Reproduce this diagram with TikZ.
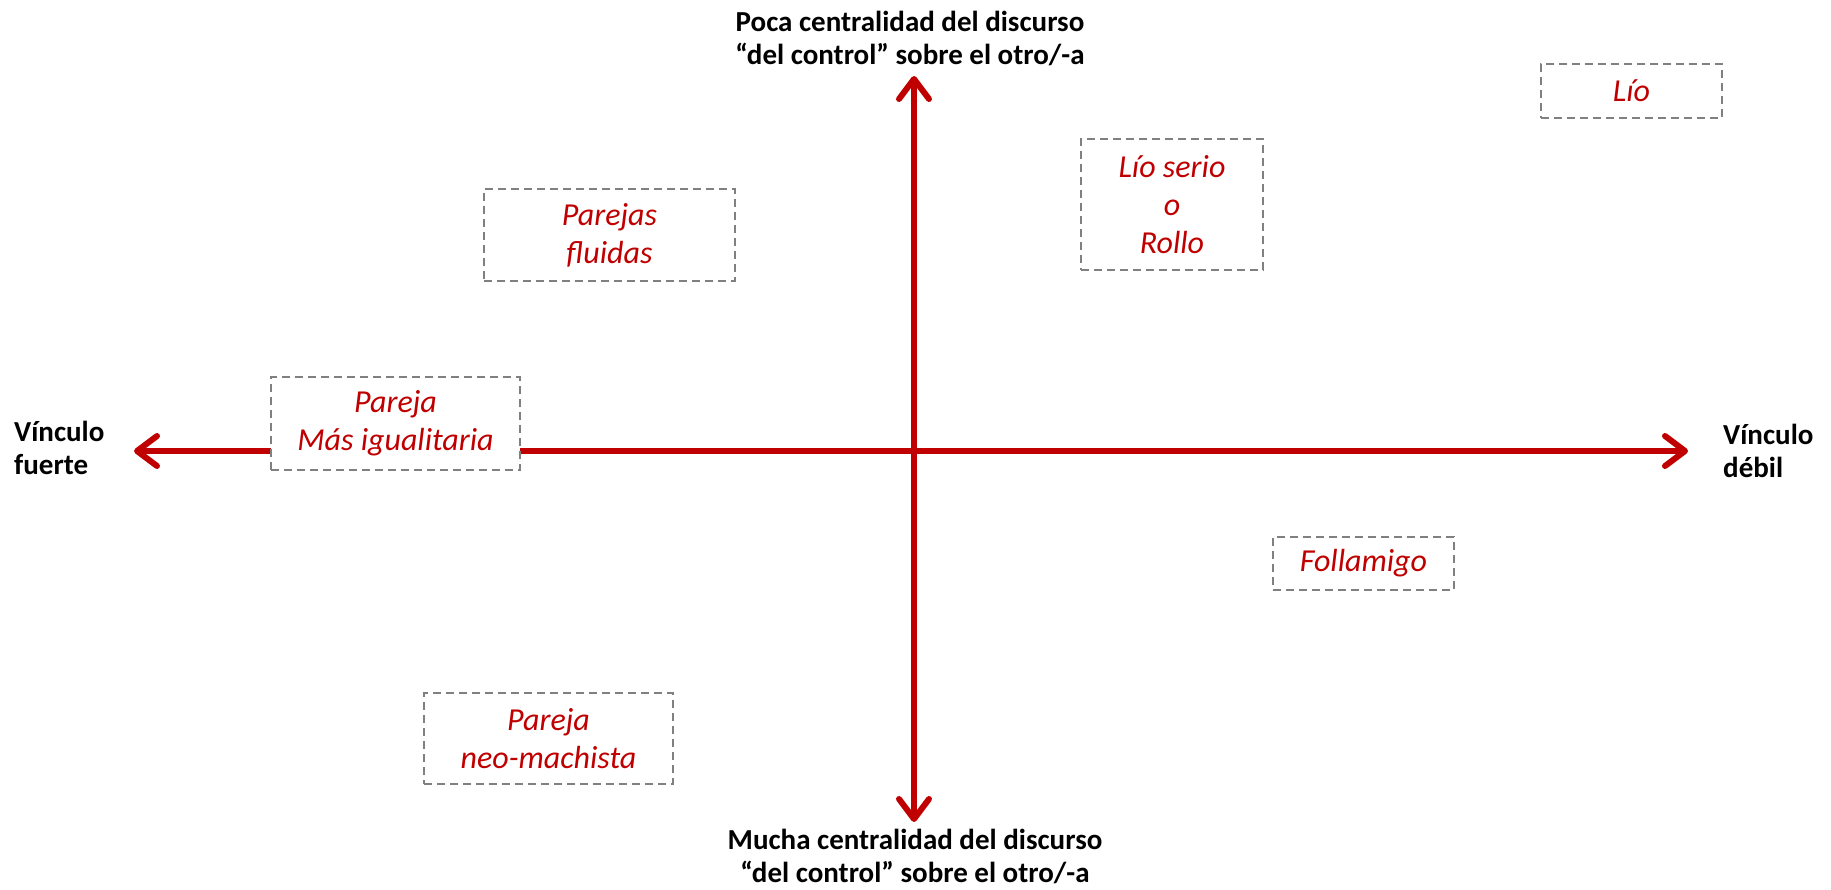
\documentclass[tikz,border=0pt]{standalone}
\usepackage{fontspec}
\setmainfont{Carlito}
\usetikzlibrary{arrows.meta}
\definecolor{rojo}{HTML}{C00000}
\definecolor{gris}{HTML}{808080}

\begin{document}
\begin{tikzpicture}[x=1pt, y=-1pt,
    caja/.style={draw=gris, dash pattern=on 8pt off 5pt, line width=2.5pt, fill=white,
        text=rojo, align=center, inner sep=0pt, font=\fontsize{32}{38}\selectfont\itshape},
    etiqueta/.style={text=black, inner sep=0pt, font=\fontsize{29}{33}\selectfont\bfseries},
    eje/.style={rojo, line width=6pt,
        arrows={Straight Barb[round, length=20pt, width=30pt]-Straight Barb[round, length=20pt, width=30pt]}}]
    \useasboundingbox (0,0) rectangle (1831,890);

    % Ends of the two axes
    \coordinate (oeste) at (134,451);
    \coordinate (este) at (1688,451);
    \coordinate (norte) at (914,76);
    \coordinate (sur) at (914,822);

    % Draw the axes
    \draw[eje] (oeste) -- (este);
    \draw[eje] (norte) -- (sur);

    % Labels at the ends of the axes
    \node[etiqueta, align=center] (poca) at (910,38) {Poca centralidad del discurso\\“del control” sobre el otro/-a};
    \node[etiqueta, align=center] (mucha) at (915,856) {Mucha centralidad del discurso\\“del control” sobre el otro/-a};
    \node[etiqueta, align=left, anchor=west] (fuerte) at (14,448) {Vínculo\\fuerte};
    \node[etiqueta, align=left, anchor=west] (debil) at (1723,451) {Vínculo\\débil};

    % Kinds of relationship, one box each
    \node[caja, minimum width=251pt, minimum height=92pt] (fluidas) at (609.5,235) {Parejas\\fluidas};
    \node[caja, minimum width=182pt, minimum height=131pt] (serio) at (1172,204.5) {Lío serio\\o\\Rollo};
    \node[caja, minimum width=181pt, minimum height=54pt] (lio) at (1631.5,91) {Lío};
    \node[caja, minimum width=249pt, minimum height=93pt] (igualitaria) at (395.5,423.5) {Pareja\\Más igualitaria};
    \node[caja, minimum width=181pt, minimum height=53pt] (follamigo) at (1363.5,563.5) {Follamigo};
    \node[caja, minimum width=249pt, minimum height=91pt] (machista) at (548.5,738.5) {Pareja\\neo-machista};
\end{tikzpicture}
\end{document}
